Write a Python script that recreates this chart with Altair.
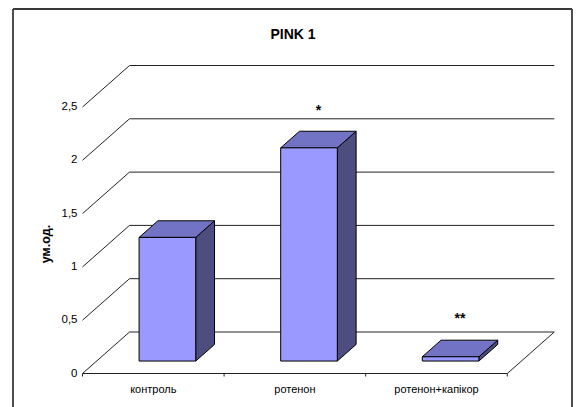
import altair as alt
import pandas as pd

# ---- data ---------------------------------------------------------------
categories = ["контроль", "ротенон", "ротенон+капікор"]
values = [1.16, 2.0, 0.04]
significance = ["", "*", "**"]
y_ticks = [0, 0.5, 1, 1.5, 2, 2.5]
y_tick_labels = ["0", "0,5", "1", "1,5", "2", "2,5"]

# ---- layout / oblique projection ----------------------------------------
W, H = 559, 398                 # plot area (the framed region)
PAD = {"left": 13, "top": 9, "right": 8, "bottom": 0}
PX_CAT = 141.6                  # pixels per category along the floor
PX_VAL = 106.6                  # pixels per value unit
ORIGIN_X = 69.5                 # front-left floor corner, px from plot left
ORIGIN_Y = 364.5                # front floor edge, px from plot top
DX = 47.0 / PX_CAT              # full depth offset, category units
DY = 41.5 / PX_VAL              # full depth offset, value units
BAR_LO, BAR_HI = 0.3, 0.7       # bar extent inside a category slot / depth
TICK = 3.0 / PX_VAL             # floor tick length

X_DOM = [-ORIGIN_X / PX_CAT, (W - ORIGIN_X) / PX_CAT]
Y_DOM = [-(H - ORIGIN_Y) / PX_VAL, ORIGIN_Y / PX_VAL]
xs = alt.Scale(domain=X_DOM, nice=False, zero=False)
ys = alt.Scale(domain=Y_DOM, nice=False, zero=False)
FONT = "Liberation Sans"
n = len(categories)


def X(f):
    return alt.X(f, type="quantitative", scale=xs, axis=None)


def Y(f):
    return alt.Y(f, type="quantitative", scale=ys, axis=None)


# ---- walls and floor ------------------------------------------------------
segs = []
for v in y_ticks:
    segs.append(dict(x=DX, x2=n + DX, y=v + DY, y2=v + DY))   # back wall grid
    segs.append(dict(x=0, x2=DX, y=v, y2=v + DY))             # side wall
segs.append(dict(x=0, x2=n, y=0, y2=0))                       # floor front
segs.append(dict(x=n, x2=n + DX, y=0, y2=DY))                 # floor right
for i in range(n + 1):
    segs.append(dict(x=i, x2=i, y=0, y2=-TICK))               # floor ticks
walls = alt.Chart(pd.DataFrame(segs)).mark_rule(color="#222", strokeWidth=1).encode(
    x=X("x"), x2="x2", y=Y("y"), y2="y2")

frame_df = pd.DataFrame([
    dict(x=X_DOM[0], x2=X_DOM[0], y=Y_DOM[0], y2=Y_DOM[1]),
    dict(x=X_DOM[0], x2=X_DOM[1], y=Y_DOM[1], y2=Y_DOM[1]),
    dict(x=X_DOM[1], x2=X_DOM[1], y=Y_DOM[0], y2=Y_DOM[1]),
])
frame = alt.Chart(frame_df).mark_rule(color="#3a3a3a", strokeWidth=1.8).encode(
    x=X("x"), x2="x2", y=Y("y"), y2="y2")

# ---- bars -----------------------------------------------------------------
fronts, sides, tops, notes = [], [], [], []
d = BAR_HI - BAR_LO
for i, (c, v, s) in enumerate(zip(categories, values, significance)):
    x0 = i + BAR_LO + BAR_LO * DX
    x1 = i + BAR_HI + BAR_LO * DX
    yb = BAR_LO * DY
    yt = v + BAR_LO * DY
    fronts.append(dict(cat=c, x=x0, x2=x1, y=yb, y2=yt))
    sides.append(dict(cat=c, x=x1, y=yb, y2=yt))
    sides.append(dict(cat=c, x=x1 + d * DX, y=yb + d * DY, y2=yt + d * DY))
    tops.append(dict(cat=c, y=yt, x=x0, x2=x1))
    tops.append(dict(cat=c, y=yt + d * DY, x=x0 + d * DX, x2=x1 + d * DX))
    notes.append(dict(x=i + 0.5 + 0.5 * DX, y=v + 0.5 * DY, t=s))

side = alt.Chart(pd.DataFrame(sides)).mark_area(
    color="#4d4d80", stroke="black", strokeWidth=1, interpolate="linear"
).encode(x=X("x"), y=Y("y"), y2="y2", detail="cat:N")

top = alt.Chart(pd.DataFrame(tops)).mark_area(
    color="#7373c6", stroke="black", strokeWidth=1, orient="horizontal", interpolate="linear"
).encode(y=Y("y"), x=X("x"), x2="x2", detail="cat:N")

front = alt.Chart(pd.DataFrame(fronts)).mark_rect(
    color="#9999ff", stroke="black", strokeWidth=1
).encode(x=X("x"), x2="x2", y=Y("y"), y2="y2")

stars = alt.Chart(pd.DataFrame(notes)).mark_text(
    font=FONT, fontSize=14, fontWeight="bold", baseline="alphabetic", dy=-25, color="black"
).encode(x=X("x"), y=Y("y"), text="t:N")

# ---- text -------------------------------------------------------------------
tick_lab = alt.Chart(pd.DataFrame(dict(x=[0] * len(y_ticks), y=y_ticks, t=y_tick_labels))).mark_text(
    font=FONT, fontSize=11.5, align="right", baseline="middle", dx=-5, color="black"
).encode(x=X("x"), y=Y("y"), text="t:N")

cat_lab = alt.Chart(pd.DataFrame(dict(x=[i + 0.5 for i in range(n)], y=[0] * n, t=categories))).mark_text(
    font=FONT, fontSize=11, align="center", baseline="alphabetic", dy=19.5, color="black"
).encode(x=X("x"), y=Y("y"), text="t:N")

title = alt.Chart(pd.DataFrame(dict(t=["PINK 1"]))).mark_text(
    font=FONT, fontSize=14, fontWeight="bold", align="center", baseline="middle", color="black"
).encode(x=alt.value(280), y=alt.value(26), text="t:N")

ytitle = alt.Chart(pd.DataFrame(dict(t=["ум.од."]))).mark_text(
    font=FONT, fontSize=12.5, fontWeight="bold", align="center", baseline="middle", angle=270,
    color="black"
).encode(x=alt.value(33), y=alt.value(235), text="t:N")

chart = alt.layer(
    walls, frame, side, top, front, stars, tick_lab, cat_lab, title, ytitle
).properties(
    width=W, height=H, padding=PAD, autosize=alt.AutoSizeParams(type="none"),
    background="white",
).configure_view(stroke=None)

chart.save("out.html", embed_options={"renderer": "svg", "actions": False})
